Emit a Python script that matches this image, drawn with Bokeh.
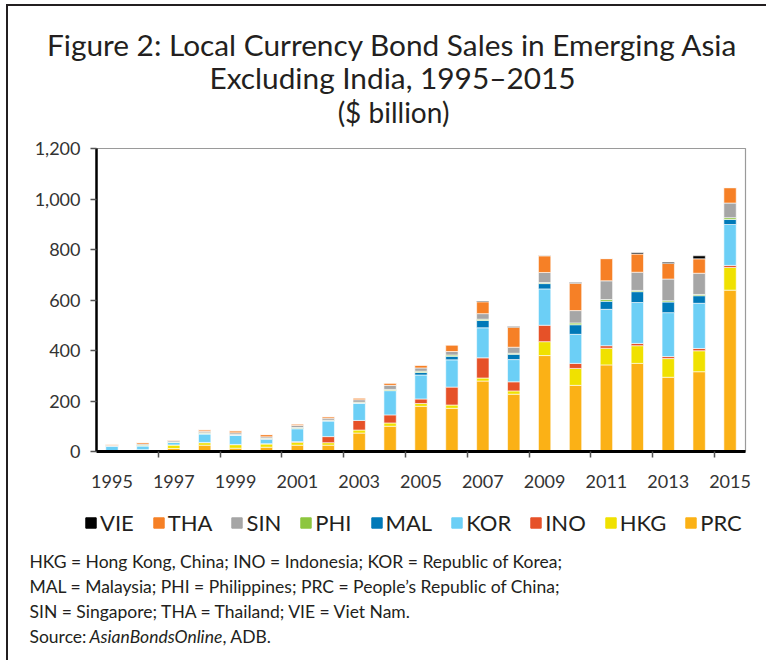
from bokeh.plotting import figure
from bokeh.layouts import column
from bokeh.models import (ColumnDataSource, Legend, LegendItem, FixedTicker,
                          NumeralTickFormatter, Range1d)
from bokeh.embed import file_html
from bokeh.resources import INLINE
from bokeh.core.properties import value

# ---------------- data ----------------
years = list(range(1995, 2016))
PRC = [1, 2, 12, 25, 13, 17, 25, 25, 73, 100, 179, 171, 279, 227, 380, 262, 343, 349, 294, 316, 639]
HKG = [1, 5, 14, 10, 14, 13, 12, 10, 12, 13, 11, 13, 12, 13, 55, 67, 66, 70, 74, 83, 90]
INO = [0, 0, 0, 1, 1, 1, 2, 24, 38, 32, 18, 71, 80, 36, 65, 20, 10, 9, 8, 9, 8]
KOR = [19, 15, 10, 33, 36, 18, 51, 62, 68, 96, 95, 108, 119, 88, 144, 115, 144, 162, 174, 179, 162]
MAL = [1, 1, 1, 2, 1, 1, 2, 1, 1, 1, 10, 14, 29, 21, 21, 38, 32, 43, 42, 30, 20]
PHI = [1, 3, 1, 3, 2, 2, 3, 2, 3, 4, 5, 5, 5, 4, 4, 7, 7, 5, 5, 5, 7]
SIN = [2, 4, 5, 6, 7, 6, 8, 8, 10, 16, 13, 14, 22, 24, 40, 49, 74, 72, 86, 84, 58]
THA = [4, 6, 3, 6, 8, 9, 6, 6, 7, 9, 11, 26, 47, 79, 66, 108, 88, 72, 62, 57, 61]
VIE = [0, 0, 0, 0, 0, 0, 0, 0, 0, 0, 0, 0, 3, 3, 1, 3, 0, 5, 5, 12, 0]

series = ["PRC", "HKG", "INO", "KOR", "MAL", "PHI", "SIN", "THA", "VIE"]
colors = ["#FBB116", "#F0E100", "#E65128", "#6CCFF6", "#0079B8", "#8DC63F", "#A6A6A6", "#F68026", "#000000"]
legend_order = ["VIE", "THA", "SIN", "PHI", "MAL", "KOR", "INO", "HKG", "PRC"]
x_tick_years = list(range(1995, 2016, 2))
y_ticks = [0, 200, 400, 600, 800, 1000, 1200]

title1 = "Figure 2: Local Currency Bond Sales in Emerging Asia"
title2 = "Excluding India, 1995\u20132015"
subtitle = "($ billion)"
notes = [
    "HKG = Hong Kong, China; INO = Indonesia; KOR = Republic of Korea;",
    "MAL = Malaysia; PHI = Philippines; PRC = People\u2019s Republic of China;",
    "SIN = Singapore; THA = Thailand; VIE = Viet Nam.",
]
source_parts = ["Source:", "AsianBondsOnline", ", ADB."]

FONT = "Lato"
TXT = "#231F20"
W = 758
TOP_H = 126


def blank(height):
    f = figure(width=W, height=height, x_range=Range1d(0, W), y_range=Range1d(height, 0),
               output_backend="svg", toolbar_location=None, frame_align=False,
               x_axis_location=None, y_axis_location=None, min_border=0)
    f.xgrid.grid_line_color = None
    f.ygrid.grid_line_color = None
    f.outline_line_color = None
    return f


# ---------------- title block ----------------
top = blank(TOP_H)
top.text(x=[384, 384], y=[38, 71], text=[title1, title2], text_align="center",
         text_baseline="middle", text_font=value(FONT), text_font_size=value("29.8px"),
         text_color=TXT)
top.text(x=[385], y=[105], text=[subtitle], text_align="center",
         text_baseline="middle", text_font=value(FONT), text_font_size=value("28px"),
         text_color=TXT)

# ---------------- chart ----------------
source = ColumnDataSource(dict(year=years, PRC=PRC, HKG=HKG, INO=INO, KOR=KOR, MAL=MAL,
                               PHI=PHI, SIN=SIN, THA=THA, VIE=VIE))

p = figure(width=W, height=356 + (138 - TOP_H), x_range=Range1d(1994.5, 2015.5),
           y_range=Range1d(0, 1200),
           output_backend="svg", toolbar_location=None, frame_align=False,
           min_border_left=88, min_border_right=W - 737,
           min_border_top=4 + (138 - TOP_H), min_border_bottom=49)

p.vbar_stack(series, x="year", width=0.4, color=colors, source=source,
             line_color="white", line_width=0.6)

p.xgrid.grid_line_color = None
p.ygrid.grid_line_color = None
p.outline_line_color = "#9A9A9A"
p.outline_line_width = 1.2

p.yaxis.ticker = FixedTicker(ticks=y_ticks)
p.yaxis.formatter = NumeralTickFormatter(format="0,0")
p.yaxis.axis_line_color = "black"
p.yaxis.axis_line_width = 2.5
p.yaxis.major_tick_line_color = "#555555"
p.yaxis.major_tick_line_width = 1.5
p.yaxis.major_tick_out = 6
p.yaxis.major_tick_in = 0
p.yaxis.minor_tick_line_color = None
p.yaxis.major_label_standoff = 10
p.yaxis.major_label_text_font = FONT
p.yaxis.major_label_text_font_size = "18px"
p.yaxis.major_label_text_color = "#333333"

p.xaxis.ticker = FixedTicker(ticks=x_tick_years, minor_ticks=[y + 1.5 for y in x_tick_years[:-1]])
p.xaxis.axis_line_color = "black"
p.xaxis.axis_line_width = 3
p.xaxis.major_tick_line_color = None
p.xaxis.major_tick_out = 0
p.xaxis.major_tick_in = 0
p.xaxis.minor_tick_line_color = "#555555"
p.xaxis.minor_tick_line_width = 1.5
p.xaxis.minor_tick_out = 6
p.xaxis.minor_tick_in = 0
p.xaxis.major_label_standoff = 17
p.xaxis.major_label_text_font = FONT
p.xaxis.major_label_text_font_size = "18px"
p.xaxis.major_label_text_color = "#333333"

# ---------------- legend + notes ----------------
bot = blank(160)
nan = float("nan")
items = []
for s in legend_order:
    r = bot.vbar(x=[nan], top=[nan], width=1, color=colors[series.index(s)])
    items.append(LegendItem(label=s, renderers=[r]))
legend = Legend(items=items, orientation="horizontal", location=(76, 124),
                glyph_width=13, glyph_height=13, label_standoff=3, spacing=18,
                padding=0, margin=0, border_line_color=None, background_fill_alpha=0,
                label_text_font=FONT, label_text_font_size="22px", label_text_color=TXT)
bot.add_layout(legend, "center")

bot.text(x=[21, 21, 21], y=[61, 86, 111], text=notes, text_align="left",
         text_baseline="middle", text_font=value(FONT), text_font_size=value("17.5px"),
         text_color=TXT)
bot.text(x=[21, 81, 214], y=[136, 136, 136], text=source_parts, text_align="left",
         text_baseline="middle", text_font=value(FONT), text_font_size=value("17.5px"),
         text_font_style=["normal", "italic", "normal"], text_color=TXT)

layout = column(top, p, bot, spacing=0,
                styles={"border-left": "2px solid #231F20", "border-top": "2px solid #231F20",
                        "margin-left": "6px", "margin-top": "4px"})

open("out.html", "w").write(file_html(layout, INLINE))
